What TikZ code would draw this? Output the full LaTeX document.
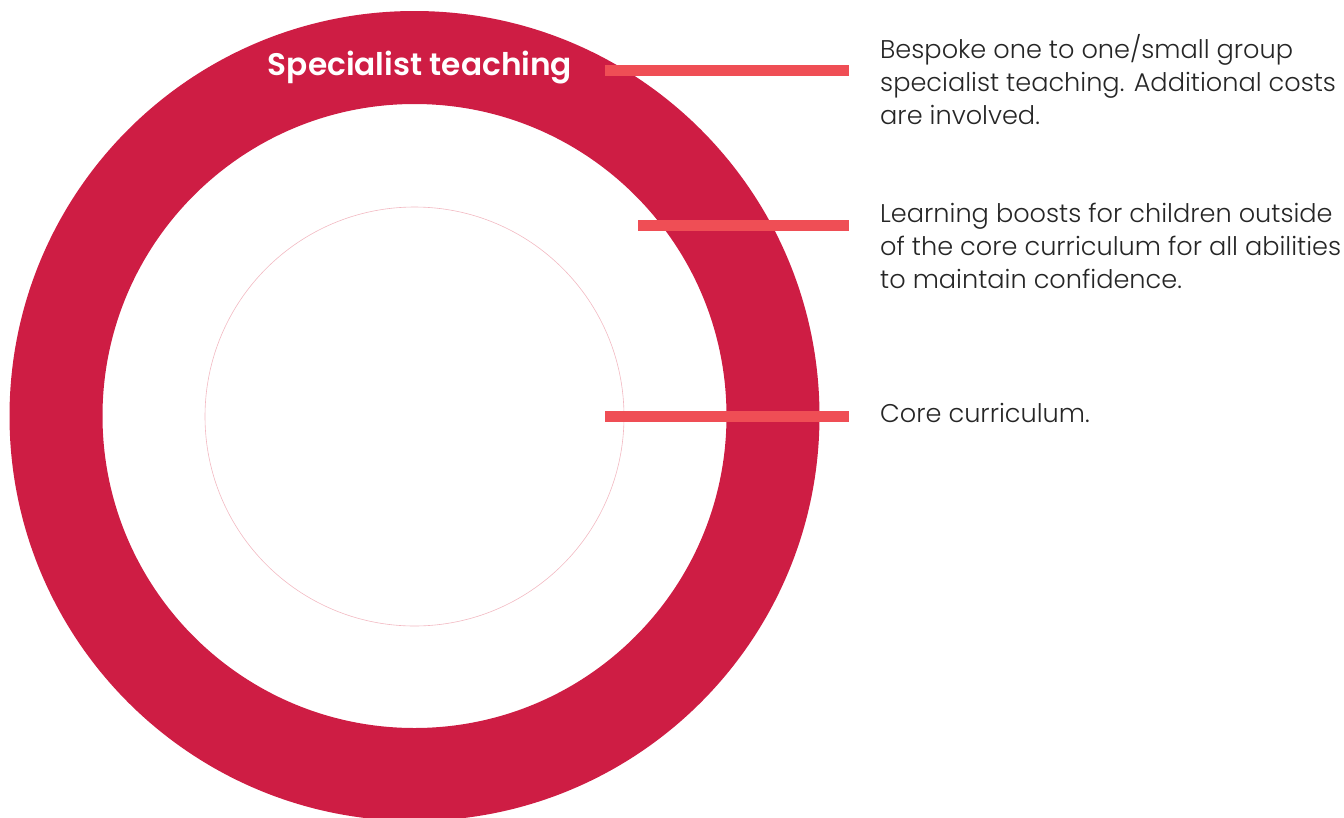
\documentclass[tikz,border=0pt]{standalone}
\usepackage{fontspec}
\setmainfont{Poppins}
\newfontfamily\lightfont{Poppins Light}
\newfontfamily\headfont{Poppins SemiBold}
\definecolor{ringred}{HTML}{CE1D44}
\definecolor{linered}{HTML}{EF4E55}
\definecolor{thinpink}{HTML}{F2B9C2}
\begin{document}
\begin{tikzpicture}[x=1pt,y=-1pt,
  leader/.style={linered,line width=11pt},
  desc/.style={anchor=base west,inner sep=0pt,align=left,font=\lightfont\fontsize{25.6}{33}\selectfont,text=black!85},
]
\useasboundingbox (0,0) rectangle (1344,817);
\begin{scope}
\clip (0,0) rectangle (1344,817);
\fill[ringred,even odd rule] (414.5,416) circle[radius=405] (414.5,416) circle[radius=312];
\end{scope}
\draw[thinpink,line width=0.6pt] (414.5,416.5) circle[radius=209.5];
\node[anchor=base,inner sep=0pt,text=white,font=\headfont\fontsize{31.2}{36}\selectfont] (head) at (420,75) {Specialist teaching};
\node[desc] (t1) at (880,124) {Bespoke one to one/small group\\specialist teaching. Additional costs\\are involved.};
\node[desc] (t2) at (880,288) {Learning boosts for children outside\\of the core curriculum for all abilities\\to maintain confidence.};
\node[desc] (t3) at (880,422) {Core curriculum.};
\coordinate (s1) at (605,70);
\coordinate (e1) at (849,70);
\coordinate (s2) at (638,225.5);
\coordinate (e2) at (849,225.5);
\coordinate (s3) at (605,416.5);
\coordinate (e3) at (849,416.5);
\draw[leader] (s1) -- (e1);
\draw[leader] (s2) -- (e2);
\draw[leader] (s3) -- (e3);
\end{tikzpicture}
\end{document}
